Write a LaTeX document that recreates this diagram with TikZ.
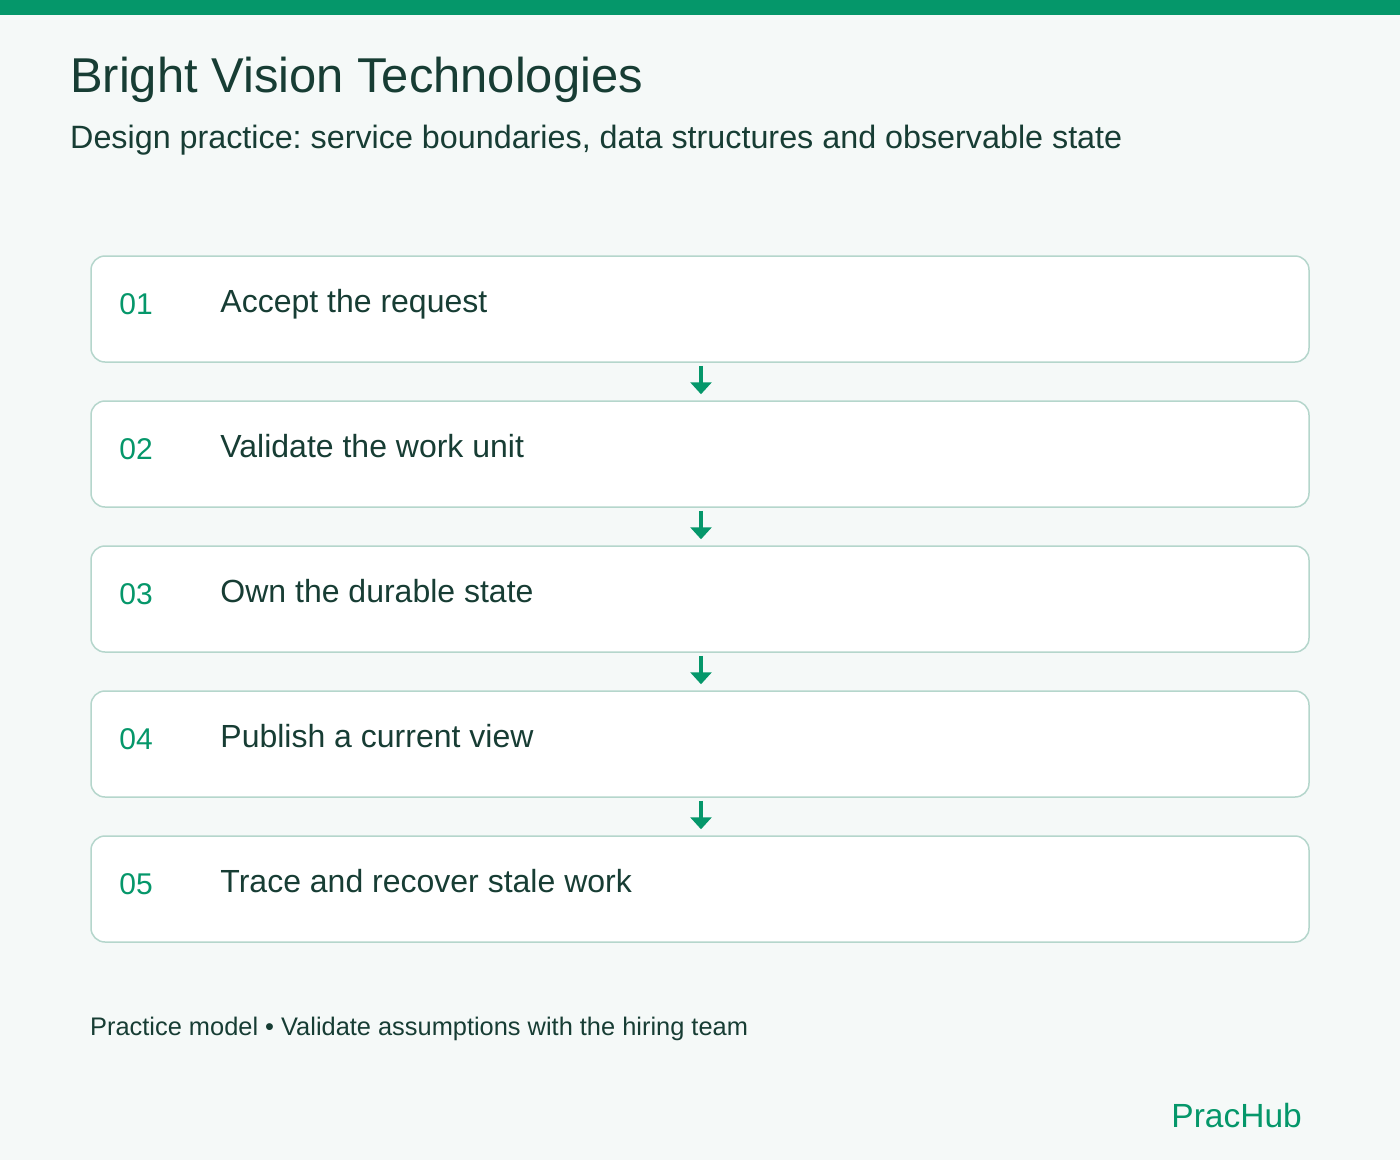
\documentclass[tikz,border=0pt]{standalone}
\usepackage{fontspec}
\setmainfont{Liberation Sans}
\frenchspacing
\usetikzlibrary{positioning,arrows.meta}
\definecolor{accent}{HTML}{05976A}
\definecolor{ink}{HTML}{173D34}
\definecolor{edge}{HTML}{B5D6CC}
\definecolor{page}{HTML}{F5F9F8}
\tikzset{
x=1pt,
y=-1pt,
stepbox/.style={rectangle, rounded corners=14pt, draw=edge, line width=1.5pt,
    fill=white, minimum width=1218pt, minimum height=106pt, inner sep=0pt},
num/.style={anchor=base west, inner sep=0pt, text=accent,
    font=\fontsize{30}{36}\selectfont},
steptext/.style={anchor=base west, inner sep=0pt, text=ink,
    font=\fontsize{32}{38}\selectfont},
flow/.style={draw=accent, line width=4pt,
    -{Triangle[width=21pt, length=12pt]}},
}

\begin{document}
\begin{tikzpicture}
    \useasboundingbox (0,0) rectangle (1400,1160);
    \fill[page] (0,0) rectangle (1400,1160);
    \fill[accent] (0,0) rectangle (1400,15);

    % heading
    \node [anchor=base west, inner sep=0pt, text=ink,
        font=\fontsize{48.9}{58}\selectfont] (title) at (70,92)
        {Bright Vision Technologies};
    \node [anchor=base west, inner sep=0pt, text=ink,
        font=\fontsize{32.3}{38}\selectfont] (subtitle) at (70,148)
        {Design practice: service boundaries, data structures and observable state};

    % steps
    \node [stepbox] (b1) at (700,309) {};
    \node [stepbox] (b2) at (700,454) {};
    \node [stepbox] (b3) at (700,599) {};
    \node [stepbox] (b4) at (700,744) {};
    \node [stepbox] (b5) at (700,889) {};

    \node [num] (n1) at ([xshift=29pt, yshift=-59pt]b1.north west) {01};
    \node [num] (n2) at ([xshift=29pt, yshift=-59pt]b2.north west) {02};
    \node [num] (n3) at ([xshift=29pt, yshift=-59pt]b3.north west) {03};
    \node [num] (n4) at ([xshift=29pt, yshift=-59pt]b4.north west) {04};
    \node [num] (n5) at ([xshift=29pt, yshift=-59pt]b5.north west) {05};

    \node [steptext] (t1) at ([xshift=130pt, yshift=-57pt]b1.north west) {Accept the request};
    \node [steptext] (t2) at ([xshift=130pt, yshift=-57pt]b2.north west) {Validate the work unit};
    \node [steptext] (t3) at ([xshift=130pt, yshift=-57pt]b3.north west) {Own the durable state};
    \node [steptext] (t4) at ([xshift=130pt, yshift=-57pt]b4.north west) {Publish a current view};
    \node [steptext] (t5) at ([xshift=130pt, yshift=-57pt]b5.north west) {Trace and recover stale work};

    \draw [flow] ([xshift=1pt, yshift=-3pt]b1.south) -- ([xshift=1pt, yshift=6pt]b2.north);
    \draw [flow] ([xshift=1pt, yshift=-3pt]b2.south) -- ([xshift=1pt, yshift=6pt]b3.north);
    \draw [flow] ([xshift=1pt, yshift=-3pt]b3.south) -- ([xshift=1pt, yshift=6pt]b4.north);
    \draw [flow] ([xshift=1pt, yshift=-3pt]b4.south) -- ([xshift=1pt, yshift=6pt]b5.north);

    % footer
    \node [anchor=base west, inner sep=0pt, text=ink,
        font=\fontsize{25.4}{30}\selectfont] (note) at (90,1035)
        {Practice model • Validate assumptions with the hiring team};
    \node [anchor=base east, inner sep=0pt, text=accent,
        font=\fontsize{33.5}{40}\selectfont] (brand) at (1302,1127) {PracHub};
\end{tikzpicture}
\end{document}
